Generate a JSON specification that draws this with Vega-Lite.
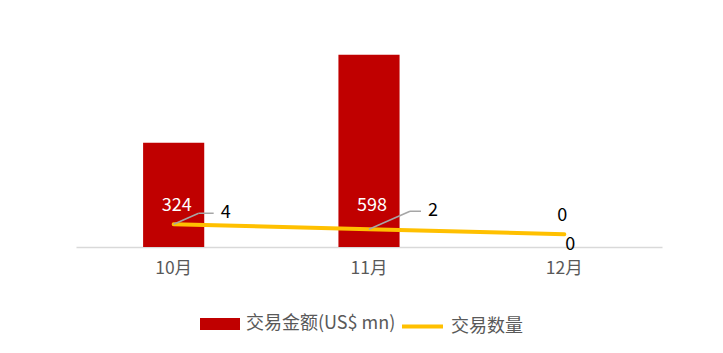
{
  "$schema": "https://vega.github.io/schema/vega-lite/v6.json",
  "autosize": "none",
  "width": 586,
  "height": 225,
  "padding": {"left": 76, "top": 22, "right": 61, "bottom": 106},
  "config": {
    "font": "Noto Sans CJK SC",
    "view": {"stroke": null}
  },
  "data": {
    "values": [
      {"month": "10月", "amount": 324, "count": 4},
      {"month": "11月", "amount": 598, "count": 2},
      {"month": "12月", "amount": 0, "count": 0}
    ]
  },
  "encoding": {
    "x": {
      "field": "month",
      "type": "nominal",
      "sort": null,
      "scale": {"paddingInner": 0, "paddingOuter": 0},
      "axis": {
        "title": null,
        "labelAngle": 0,
        "labelFontSize": 17.5,
        "labelColor": "#595959",
        "labelPadding": 12,
        "ticks": false,
        "grid": false,
        "domainColor": "#D9D9D9",
        "domainWidth": 1.5
      }
    }
  },
  "layer": [
    {
      "encoding": {
        "y": {"type": "quantitative", "scale": {"domain": [0, 700], "nice": false}, "axis": null}
      },
      "layer": [
        {
          "mark": {"type": "bar", "width": {"band": 0.313}},
          "encoding": {
            "y": {"field": "amount", "type": "quantitative", "scale": {"domain": [0, 700], "nice": false}, "axis": null},
            "color": {
              "datum": "交易金额(US$ mn)",
              "scale": {"range": ["#C00000"]},
              "legend": {
                "title": null,
                "orient": "none",
                "legendX": 124,
                "legendY": 282,
                "direction": "horizontal",
                "symbolType": "M-1,-0.3H1V0.3H-1Z",
                "symbolSize": 1600,
                "symbolStrokeWidth": 0,
                "labelFontSize": 18,
                "labelColor": "#595959",
                "labelOffset": 6
              }
            }
          }
        },
        {
          "transform": [{"filter": "datum.amount > 0"}],
          "mark": {"type": "text", "color": "white", "fontSize": 18, "dx": 3, "dy": -41, "baseline": "middle"},
          "encoding": {
            "y": {"datum": 0, "type": "quantitative", "scale": {"domain": [0, 700], "nice": false}, "axis": null},
            "text": {"field": "amount", "type": "quantitative"}
          }
        },
        {
          "transform": [{"filter": "datum.amount == 0"}],
          "mark": {"type": "text", "color": "black", "fontSize": 18, "dx": 6, "dy": -2, "baseline": "middle"},
          "encoding": {
            "y": {"datum": 0, "type": "quantitative", "scale": {"domain": [0, 700], "nice": false}, "axis": null},
            "text": {"field": "amount", "type": "quantitative"}
          }
        }
      ]
    },
    {
      "encoding": {
        "y": {"field": "count", "type": "quantitative", "scale": {"domain": [-5.1, 84.9], "nice": false, "zero": false}, "axis": null}
      },
      "layer": [
        {
          "mark": {"type": "line", "strokeWidth": 4, "strokeCap": "round"},
          "encoding": {
            "color": {
              "datum": "交易数量",
              "scale": {"range": ["#FFC000"]},
              "legend": {
                "title": null,
                "orient": "none",
                "legendX": 324,
                "legendY": 282,
                "direction": "horizontal",
                "symbolType": "stroke",
                "symbolSize": 1681,
                "symbolStrokeWidth": 4,
                "labelFontSize": 18,
                "labelColor": "#595959",
                "labelOffset": 6
              }
            }
          }
        },
        {
          "transform": [{"filter": "datum.month == '10月'"}],
          "mark": {"type": "rule", "color": "#A6A6A6", "strokeWidth": 1.5, "x2Offset": 25, "y2Offset": -11},
          "encoding": {
            "x": {"field": "month", "type": "nominal", "sort": null, "bandPosition": 0.5},
            "x2": {"field": "month", "bandPosition": 0.5},
            "y2": {"field": "count"}
          }
        },
        {
          "transform": [{"filter": "datum.month == '10月'"}],
          "mark": {"type": "rule", "color": "#A6A6A6", "strokeWidth": 1.5, "xOffset": 25, "yOffset": -11, "x2Offset": 40, "y2Offset": -11},
          "encoding": {
            "x": {"field": "month", "type": "nominal", "sort": null, "bandPosition": 0.5},
            "x2": {"field": "month", "bandPosition": 0.5},
            "y2": {"field": "count"}
          }
        },
        {
          "transform": [{"filter": "datum.month == '10月'"}],
          "mark": {"type": "text", "color": "black", "fontSize": 18, "align": "left", "baseline": "middle", "dx": 47, "dy": -11},
          "encoding": {"text": {"field": "count", "type": "quantitative"}}
        },
        {
          "transform": [{"filter": "datum.month == '11月'"}],
          "mark": {"type": "rule", "color": "#A6A6A6", "strokeWidth": 1.5, "x2Offset": 41, "y2Offset": -18},
          "encoding": {
            "x": {"field": "month", "type": "nominal", "sort": null, "bandPosition": 0.5},
            "x2": {"field": "month", "bandPosition": 0.5},
            "y2": {"field": "count"}
          }
        },
        {
          "transform": [{"filter": "datum.month == '11月'"}],
          "mark": {"type": "rule", "color": "#A6A6A6", "strokeWidth": 1.5, "xOffset": 41, "yOffset": -18, "x2Offset": 52, "y2Offset": -18},
          "encoding": {
            "x": {"field": "month", "type": "nominal", "sort": null, "bandPosition": 0.5},
            "x2": {"field": "month", "bandPosition": 0.5},
            "y2": {"field": "count"}
          }
        },
        {
          "transform": [{"filter": "datum.month == '11月'"}],
          "mark": {"type": "text", "color": "black", "fontSize": 18, "align": "left", "baseline": "middle", "dx": 59, "dy": -18},
          "encoding": {"text": {"field": "count", "type": "quantitative"}}
        },
        {
          "transform": [{"filter": "datum.month == '12月'"}],
          "mark": {"type": "text", "color": "black", "fontSize": 18, "baseline": "middle", "dx": -2, "dy": -18},
          "encoding": {"text": {"field": "count", "type": "quantitative"}}
        }
      ]
    }
  ],
  "resolve": {"scale": {"y": "independent", "color": "independent"}, "legend": {"color": "independent"}}
}
